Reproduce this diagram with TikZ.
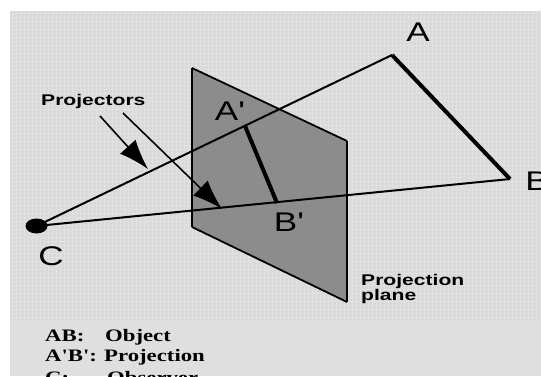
\documentclass[tikz,border=0pt]{standalone}
\usepackage{fontspec}
\newfontfamily\lblfont[FakeStretch=1.3]{Liberation Sans}
\newfontfamily\capfont[FakeStretch=1.36]{Liberation Sans Bold}
\newfontfamily\keyfont[FakeStretch=1.3]{Liberation Serif Bold}
\usetikzlibrary{arrows.meta}
\definecolor{bgtop}{HTML}{D9D9D9}
\definecolor{bgtex}{HTML}{E1E1E1}
\definecolor{bgbot}{HTML}{DFDFDF}
\definecolor{planefill}{HTML}{8C8C8C}
\tikzset{
 x=1pt,y=-1pt,
 pt/.style={inner sep=0pt,minimum size=0pt},
 bigl/.style={inner sep=0pt,font=\lblfont\fontsize{27}{27}\selectfont},
 capl/.style={inner sep=0pt,anchor=west,font=\capfont\fontsize{15.5}{15.5}\selectfont},
 keyl/.style={inner sep=0pt,anchor=base west,font=\keyfont\fontsize{17.5}{17.5}\selectfont},
 ray/.style={line width=2pt,black},
 seg/.style={line width=4pt,black},
 edge/.style={line width=1.8pt,black},
 vedge/.style={line width=2.6pt,black},
 projarrow/.style={line width=1.6pt,black,-{Latex[length=30pt,width=21pt]}},
 texline/.style={bgtex,line width=0.6pt},
}
\begin{document}
\begin{tikzpicture}
\useasboundingbox (0,0) rectangle (541,376);
\fill[bgbot] (10,11) rectangle (541,376);
\fill[bgtop] (10,11) rectangle (541,320);
\foreach \gx in {12,16,...,540} {\draw[texline] (\gx,11) -- (\gx,320);}
\foreach \gy in {13,17,...,320} {\draw[texline] (10,\gy) -- (541,\gy);}
\node[pt] (A) at (392,55) {};
\node[pt] (B) at (510,179) {};
\node[pt] (C) at (36.5,226) {};
\node[pt] (P1) at (192,68) {};
\node[pt] (P2) at (347,141) {};
\node[pt] (P3) at (347,302) {};
\node[pt] (P4) at (192,227) {};
\node[pt] (Ap) at (245,126) {};
\node[pt] (Bp) at (277,203) {};
\coordinate (s1) at (100,116);
\coordinate (e1) at (148,169);
\coordinate (s2) at (123,113);
\coordinate (e2) at (222,209);
\fill[planefill] (P1.center) -- (P2.center) -- (P3.center) -- (P4.center) -- cycle;
\draw[edge] (P1.center) -- (P2.center);
\draw[edge] (P3.center) -- (P4.center);
\draw[vedge] (P1.center) -- (P4.center);
\draw[vedge] (P2.center) -- (P3.center);
\draw[ray] (C.center) -- (A.center);
\draw[ray] (C.center) -- (B.center);
\draw[seg] (A.center) -- (B.center);
\draw[seg] (Ap.center) -- (Bp.center);
\draw[projarrow] (s1) -- (e1);
\draw[projarrow] (s2) -- (e2);
\fill[black] (C.center) ellipse (11pt and 7.5pt);
\node[bigl] (lA) at (418,32) {A};
\node[bigl] (lB) at (537,181) {B};
\node[bigl] (lC) at (51,256) {C};
\node[bigl] (lAp) at (230,111) {A'};
\node[bigl] (lBp) at (289,222) {B'};
\node[capl] (lproj) at (41,101) {Projectors};
\node[capl] (lpl1) at (361,281) {Projection};
\node[capl] (lpl2) at (361,296) {plane};
\node[keyl] (k1) at (45,341) {AB:};
\node[keyl] (k1b) at (105,341) {Object};
\node[keyl] (k2) at (45,361) {A'B':};
\node[keyl] (k2b) at (104,361) {Projection};
\node[keyl] (k3) at (45,383) {C:};
\node[keyl] (k3b) at (107,383) {Observer};
\end{tikzpicture}
\end{document}
